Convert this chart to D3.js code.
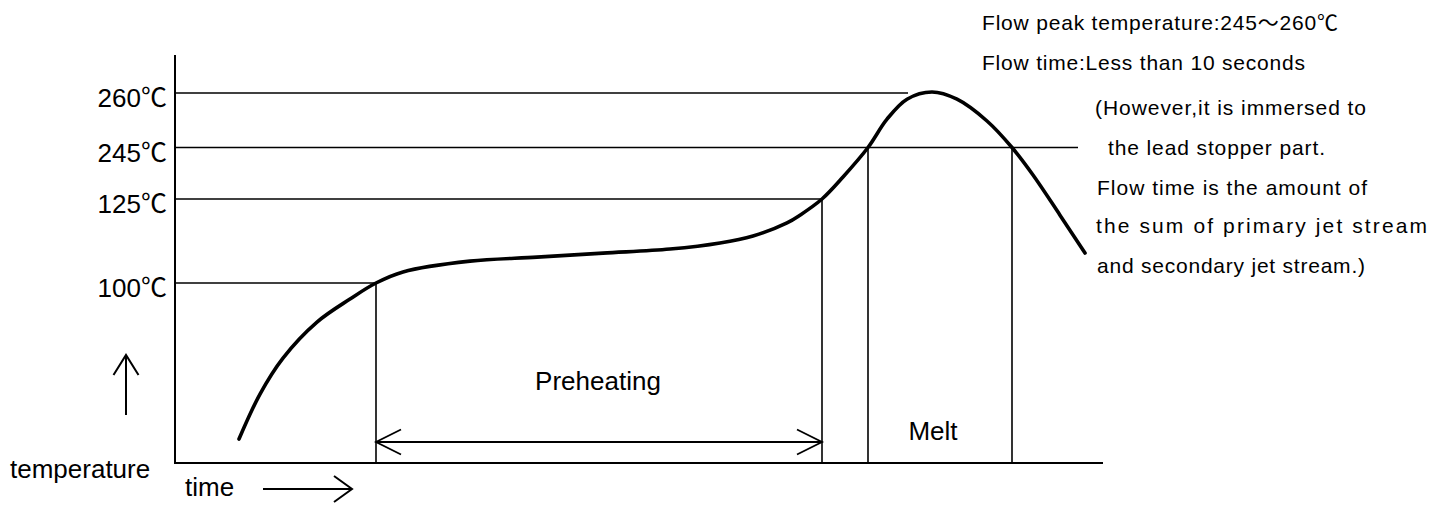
<!DOCTYPE html>
<html>
<head>
<meta charset="utf-8">
<script src="https://cdn.jsdelivr.net/npm/d3@7"></script>
<style>
  body { margin: 0; background: #fff; }
  svg { display: block; }
  text { fill: #000; font-family: "Liberation Sans", Arial, "Noto Sans CJK JP", sans-serif; }
</style>
</head>
<body>
<script>
// flow soldering profile, schematic (time in arbitrary s, temperature in ℃)
const profileTime = [12.8, 17, 21.6, 28.4, 35, 40.2, 45.6, 59, 72.4, 85.6, 99, 109, 115.6, 122.4, 125, 129.4,
                     133.6, 138.6, 142.4, 146.4, 151.4, 156.4, 162.4, 167.4, 171.6, 177, 182];
const profileTemp = [13.3, 38.3, 58.3, 78.3, 91.1, 100, 103.3, 106.5, 107.7, 108.9, 110.1, 111.9, 114, 117.9, 120.2, 125,
                     176.3, 245, 252.8, 258.3, 260.3, 258.3, 252.3, 245, 180.9, 120.2, 108.9];

// reference levels and how far each guide line runs
const levels = [260, 245, 125, 100];
const levelLabels = ["260℃", "245℃", "125℃", "100℃"];
const levelEnds = [146.6, 180.6, 129.4, 40.2];

// vertical markers: [time, temperature where it meets the curve]
const markerTimes = [40.2, 129.4, 138.6, 167.4];
const markerTemps = [100, 125, 245, 245];

const preheatSpan = [40.2, 129.4];
const meltSpan = [138.6, 167.4];

const noteLines = [
  "Flow peak temperature:245～260℃",
  "Flow time:Less than 10 seconds",
  "(However,it is immersed to",
  "the lead stopper part.",
  "Flow time is the amount of",
  "the sum of primary jet stream",
  "and secondary jet stream.)"
];
const noteX = [982, 982, 1095, 1108, 1097, 1096, 1097];
const noteY = [30, 70, 115, 155, 195, 233, 273];
const noteW = [356, 323, 271, 217, 270, 331, 268];

const width = 1447, height = 508;

const svg = d3.select("body").append("svg")
    .attr("width", width)
    .attr("height", height);

const x = d3.scaleLinear().domain([0, 185.6]).range([175, 1103]);
// the drawing is not to scale: piecewise mapping between the marked levels
const y = d3.scaleLinear()
    .domain([0, 100, 125, 245, 260, 271])
    .range([463, 283, 199, 147.5, 93, 55]);

// axes
svg.append("path")
    .attr("d", `M${x(0)},${y(271)}V${y(0)}H${x(185.6)}`)
    .attr("fill", "none")
    .attr("stroke", "#000")
    .attr("stroke-width", 2);

// guide lines
svg.append("g")
  .selectAll("line")
  .data(levels)
  .join("line")
    .attr("x1", x(0))
    .attr("x2", (d, i) => x(levelEnds[i]))
    .attr("y1", d => y(d))
    .attr("y2", d => y(d))
    .attr("stroke", "#000")
    .attr("stroke-width", 1.6);

svg.append("g")
  .selectAll("text")
  .data(levels)
  .join("text")
    .attr("x", 167)
    .attr("y", d => y(d) + 14)
    .attr("text-anchor", "end")
    .style("font-size", "26px")
    .text((d, i) => levelLabels[i]);

// vertical markers
svg.append("g")
  .selectAll("line")
  .data(markerTimes)
  .join("line")
    .attr("x1", d => x(d))
    .attr("x2", d => x(d))
    .attr("y1", (d, i) => y(markerTemps[i]))
    .attr("y2", y(0))
    .attr("stroke", "#000")
    .attr("stroke-width", 1.6);

// the profile curve
const line = d3.line()
    .x(d => x(d[0]))
    .y(d => y(d[1]))
    .curve(d3.curveCatmullRom.alpha(0.5));

svg.append("path")
    .datum(profileTime.map((t, i) => [t, profileTemp[i]]))
    .attr("d", line)
    .attr("fill", "none")
    .attr("stroke", "#000")
    .attr("stroke-width", 3.6)
    .attr("stroke-linecap", "round");

// open arrow heads
function head(tx, ty, dx, dy, len, half) {
  // dx,dy: unit direction of the arrow
  const bx = tx - dx * len, by = ty - dy * len;
  return `M${bx - dy * half},${by + dx * half}L${tx},${ty}L${bx + dy * half},${by - dx * half}`;
}

const preY = 442;
svg.append("path")
    .attr("d", `M${x(preheatSpan[0])},${preY}H${x(preheatSpan[1])}` +
      head(x(preheatSpan[0]), preY, -1, 0, 25, 12.5) +
      head(x(preheatSpan[1]), preY, 1, 0, 25, 12.5))
    .attr("fill", "none")
    .attr("stroke", "#000")
    .attr("stroke-width", 1.8);

svg.append("text")
    .attr("x", x((preheatSpan[0] + preheatSpan[1]) / 2) - 1)
    .attr("y", 390)
    .attr("text-anchor", "middle")
    .style("font-size", "26px")
    .text("Preheating");

svg.append("text")
    .attr("x", x((meltSpan[0] + meltSpan[1]) / 2) - 7)
    .attr("y", 440)
    .attr("text-anchor", "middle")
    .style("font-size", "26px")
    .text("Melt");

// axis titles with their arrows
svg.append("text")
    .attr("x", 10)
    .attr("y", 478)
    .style("font-size", "26px")
    .text("temperature");

svg.append("path")
    .attr("d", "M126,415V355" + head(126, 355, 0, -1, 20, 12.5))
    .attr("fill", "none")
    .attr("stroke", "#000")
    .attr("stroke-width", 2);

svg.append("text")
    .attr("x", 185)
    .attr("y", 496)
    .style("font-size", "26px")
    .text("time");

svg.append("path")
    .attr("d", "M263,489H352" + head(352, 489, 1, 0, 18, 13))
    .attr("fill", "none")
    .attr("stroke", "#000")
    .attr("stroke-width", 2);

// notes at top right
svg.append("g")
  .selectAll("text")
  .data(noteLines)
  .join("text")
    .attr("x", (d, i) => noteX[i])
    .attr("y", (d, i) => noteY[i])
    .attr("textLength", (d, i) => noteW[i])
    .attr("lengthAdjust", "spacing")
    .style("font-size", "21px")
    .text(d => d);
</script>
</body>
</html>
